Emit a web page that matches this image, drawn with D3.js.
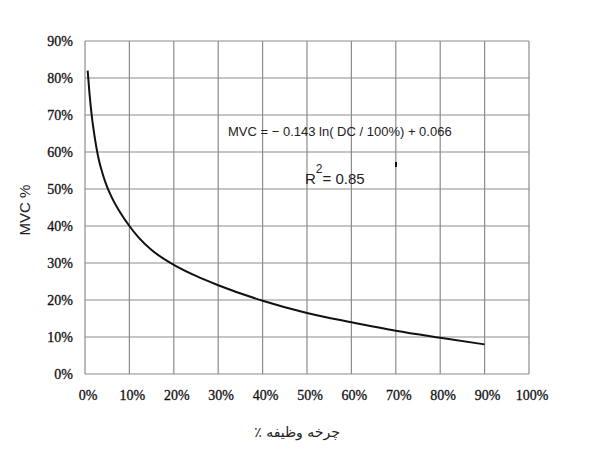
<!DOCTYPE html>
<html><head><meta charset="utf-8">
<script src="https://cdn.jsdelivr.net/npm/d3@7"></script>
<style>body{margin:0;background:#fff}</style></head>
<body><svg id="c" width="593" height="465"></svg>
<script>
const dutyCycle = [0.6, 1, 1.5, 2, 3, 4, 5, 6, 8, 10, 12, 15, 20, 25, 30, 40, 50, 60, 70, 80, 90];
const mvc = [82, 76, 70, 65.5, 58.5, 54, 50.5, 47.8, 43.5, 40, 37, 33.5, 29.5, 26.5, 24, 19.8, 16.5, 14, 11.7, 9.8, 8];
const xTicks = [0,10,20,30,40,50,60,70,80,90,100];
const yTicks = [0,10,20,30,40,50,60,70,80,90];
const equation = "MVC = \u2212 0.143 ln( DC / 100%) + 0.066";

const svg = d3.select("#c");
const x = d3.scaleLinear().domain([0,100]).range([85,529]);
const y = d3.scaleLinear().domain([0,90]).range([374,41]);
const g = svg.append("g");
g.selectAll(".vx").data(xTicks).join("line").attr("x1",d=>x(d)).attr("x2",d=>x(d)).attr("y1",y(0)).attr("y2",y(90)).attr("stroke","#8c8c8c").attr("stroke-width",1.2);
g.selectAll(".hy").data(yTicks).join("line").attr("y1",d=>y(d)).attr("y2",d=>y(d)).attr("x1",x(0)).attr("x2",x(100)).attr("stroke","#8c8c8c").attr("stroke-width",1.2);
const tf = "'Liberation Serif', serif";
g.selectAll(".yl").data(yTicks).join("text").attr("x",73).attr("y",d=>y(d)+5).attr("text-anchor","end").attr("font-family",tf).attr("font-size",14).attr("fill","#111").attr("stroke","#111").attr("stroke-width",0.3).text(d=>d+"%");
g.selectAll(".xl").data(xTicks).join("text").attr("x",d=>x(d)+3).attr("y",400).attr("text-anchor","middle").attr("font-family",tf).attr("font-size",14).attr("fill","#111").attr("stroke","#111").attr("stroke-width",0.3).text(d=>d+"%");
const line = d3.line().x(d=>x(d)).y((d,i)=>y(mvc[i])).curve(d3.curveMonotoneX);
g.append("path").attr("d",line(dutyCycle)).attr("fill","none").attr("stroke","#111").attr("stroke-width",2);
svg.append("text").attr("x",228).attr("y",136).attr("font-family","Arial, sans-serif").attr("font-size",13).attr("fill","#222").text(equation);
const r = svg.append("text").attr("x",305).attr("y",184).attr("font-family","Arial, sans-serif").attr("font-size",15).attr("fill","#222");
r.append("tspan").text("R");
r.append("tspan").attr("dy",-11).attr("font-size",12).text("2");
r.append("tspan").attr("dy",11).text("= 0.85");
svg.append("rect").attr("x",395).attr("y",162).attr("width",2).attr("height",5).attr("fill","#111");
svg.append("text").attr("transform","translate(30,210) rotate(-90)").attr("text-anchor","middle").attr("font-family","Arial, sans-serif").attr("font-size",15).attr("fill","#222").text("MVC %");
svg.append("text").attr("x",297).attr("y",437).attr("text-anchor","middle").attr("font-family","'DejaVu Sans', sans-serif").attr("font-size",14).attr("fill","#222").attr("direction","rtl").text("چرخه وظیفه ٪");
</script></body></html>
